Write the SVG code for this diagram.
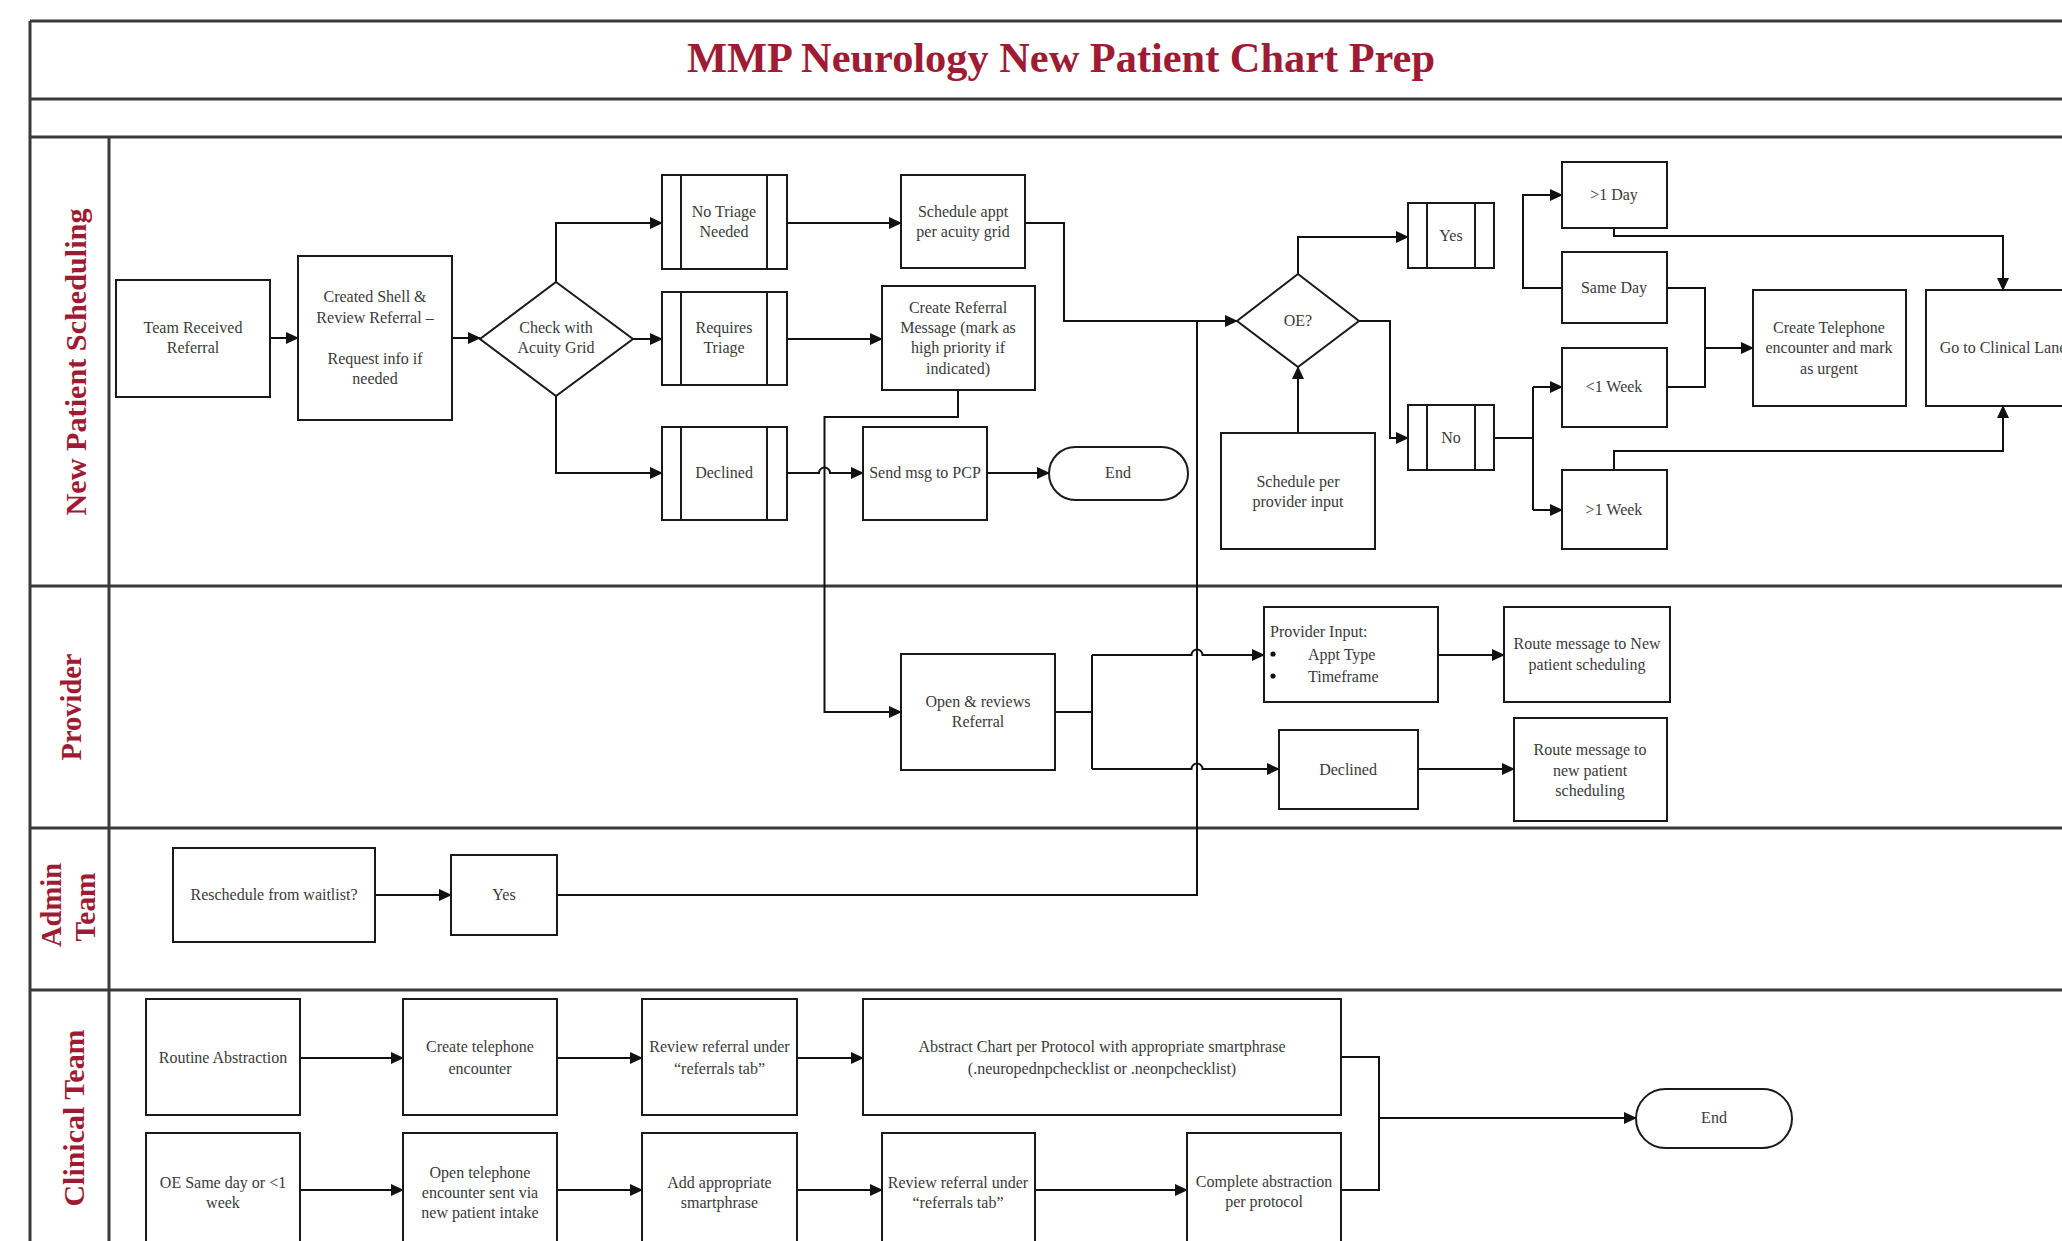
<svg xmlns="http://www.w3.org/2000/svg" width="2062" height="1241" viewBox="0 0 2062 1241">
<style>
.frame{fill:none;stroke:#3a3a3a;stroke-width:3}
.box{fill:#fff;stroke:#1a1a1a;stroke-width:2}
.sub{fill:none;stroke:#1a1a1a;stroke-width:2}
.t{font-family:"Liberation Serif",serif;font-size:16px;fill:#3a3a3a;text-anchor:middle}
.ts{font-family:"Liberation Serif",serif;font-size:16px;fill:#3a3a3a}
.lane{font-family:"Liberation Serif",serif;font-size:29px;font-weight:bold;fill:#9e1b34;text-anchor:middle}
.title{font-family:"Liberation Serif",serif;font-size:42px;font-weight:bold;fill:#9e1b34}
.c{fill:none;stroke:#111;stroke-width:2}
.ca{fill:none;stroke:#111;stroke-width:2;marker-end:url(#ah)}
</style>
<defs>
<marker id="ah" markerUnits="userSpaceOnUse" markerWidth="13" markerHeight="12" refX="12" refY="6" orient="auto">
<path d="M0,0 L13,6 L0,12 z" fill="#111"/>
</marker>
</defs>
<rect width="2062" height="1241" fill="#fff"/>

<g id="frame">
<line class="frame" x1="30" y1="21" x2="2070" y2="21"/>
<line class="frame" x1="30" y1="21" x2="30" y2="1250"/>
<line class="frame" x1="30" y1="99" x2="2070" y2="99"/>
<line class="frame" x1="30" y1="137" x2="2070" y2="137"/>
<line class="frame" x1="30" y1="586" x2="2070" y2="586"/>
<line class="frame" x1="30" y1="828" x2="2070" y2="828"/>
<line class="frame" x1="30" y1="990" x2="2070" y2="990"/>
<line class="frame" x1="109" y1="137" x2="109" y2="1250"/>
<text class="title" x="687" y="72" textLength="748" lengthAdjust="spacingAndGlyphs">MMP Neurology New Patient Chart Prep</text>
<text class="lane" transform="translate(86,362) rotate(-90)" textLength="307" lengthAdjust="spacingAndGlyphs">New Patient Scheduling</text>
<text class="lane" transform="translate(81,707) rotate(-90)" textLength="107" lengthAdjust="spacingAndGlyphs">Provider</text>
<text class="lane" transform="translate(61,905) rotate(-90)" textLength="84" lengthAdjust="spacingAndGlyphs">Admin</text>
<text class="lane" transform="translate(95,907) rotate(-90)" textLength="69" lengthAdjust="spacingAndGlyphs">Team</text>
<text class="lane" transform="translate(84,1118) rotate(-90)" textLength="177" lengthAdjust="spacingAndGlyphs">Clinical Team</text>
</g>

<g id="connectors">
<path class="ca" d="M270,338 H298"/>
<path class="ca" d="M452,338 H480"/>
<path class="ca" d="M556,282 V223 H662"/>
<path class="ca" d="M633,339 H662"/>
<path class="ca" d="M556,396 V473 H662"/>
<path class="ca" d="M787,223 H901"/>
<path class="ca" d="M787,339 H882"/>
<path class="ca" d="M787,473 H819 a5.5,5.5 0 0 1 11,0 H863"/>
<path class="ca" d="M987,473 H1049"/>
<path class="ca" d="M958,390 V417 H824.5 V712 H901"/>
<path class="ca" d="M1025,223 H1064 V321 H1237"/>
<path class="c" d="M557,895 H1197 V321"/>
<path class="ca" d="M1298,274 V237 H1408"/>
<path class="ca" d="M1359,321 H1390 V438 H1408"/>
<path class="ca" d="M1298,433 V367"/>
<path class="c" d="M1494,438 H1533 M1533,387 V510"/>
<path class="ca" d="M1533,387 H1562"/>
<path class="ca" d="M1533,510 H1562"/>
<path class="ca" d="M1562,288 H1523 V195 H1562"/>
<path class="c" d="M1667,288 H1705 V387 H1667"/>
<path class="ca" d="M1705,348 H1753"/>
<path class="ca" d="M1614,228 V236 H2003 V290"/>
<path class="ca" d="M1614,470 V451 H2003 V406"/>
<path class="c" d="M1055,712 H1092 M1092,655 V769"/>
<path class="ca" d="M1092,655 H1191.5 a5.5,5.5 0 0 1 11,0 H1264"/>
<path class="ca" d="M1092,769 H1191.5 a5.5,5.5 0 0 1 11,0 H1279"/>
<path class="ca" d="M1438,655 H1504"/>
<path class="ca" d="M1418,769 H1514"/>
<path class="ca" d="M375,895 H451"/>
<path class="ca" d="M300,1058 H403"/>
<path class="ca" d="M557,1058 H642"/>
<path class="ca" d="M797,1058 H863"/>
<path class="ca" d="M300,1190 H403"/>
<path class="ca" d="M557,1190 H642"/>
<path class="ca" d="M797,1190 H882"/>
<path class="ca" d="M1035,1190 H1187"/>
<path class="c" d="M1341,1057 H1379 V1190 H1341"/>
<path class="ca" d="M1379,1118 H1636"/>
</g>

<g id="n-team-received"><rect class="box" x="116" y="280" width="154" height="117"/>
<text class="t" x="193" y="333">Team Received</text><text class="t" x="193" y="353">Referral</text></g>

<g id="n-created-shell"><rect class="box" x="298" y="256" width="154" height="164"/>
<text class="t" x="375" y="302">Created Shell &amp;</text><text class="t" x="375" y="323">Review Referral –</text>
<text class="t" x="375" y="364">Request info if</text><text class="t" x="375" y="384">needed</text></g>

<g id="n-check-acuity"><polygon class="box" points="556,282 633,339 556,396 480,339"/>
<text class="t" x="556" y="333">Check with</text><text class="t" x="556" y="353">Acuity Grid</text></g>

<g id="n-no-triage"><rect class="box" x="662" y="175" width="125" height="94"/>
<line class="sub" x1="681" y1="175" x2="681" y2="269"/><line class="sub" x1="767" y1="175" x2="767" y2="269"/>
<text class="t" x="724" y="217">No Triage</text><text class="t" x="724" y="237">Needed</text></g>

<g id="n-requires-triage"><rect class="box" x="662" y="292" width="125" height="93"/>
<line class="sub" x1="681" y1="292" x2="681" y2="385"/><line class="sub" x1="767" y1="292" x2="767" y2="385"/>
<text class="t" x="724" y="333">Requires</text><text class="t" x="724" y="353">Triage</text></g>

<g id="n-declined"><rect class="box" x="662" y="427" width="125" height="93"/>
<line class="sub" x1="681" y1="427" x2="681" y2="520"/><line class="sub" x1="767" y1="427" x2="767" y2="520"/>
<text class="t" x="724" y="478">Declined</text></g>

<g id="n-schedule-appt"><rect class="box" x="901" y="175" width="124" height="93"/>
<text class="t" x="963" y="217">Schedule appt</text><text class="t" x="963" y="237">per acuity grid</text></g>

<g id="n-create-referral"><rect class="box" x="882" y="286" width="153" height="104"/>
<text class="t" x="958" y="313">Create Referral</text><text class="t" x="958" y="333">Message (mark as</text>
<text class="t" x="958" y="353">high priority if</text><text class="t" x="958" y="374">indicated)</text></g>

<g id="n-send-pcp"><rect class="box" x="863" y="427" width="124" height="93"/>
<text class="t" x="925" y="478">Send msg to PCP</text></g>

<g id="n-end1"><rect class="box" x="1049" y="447" width="139" height="53" rx="26.5"/>
<text class="t" x="1118" y="478">End</text></g>

<g id="n-oe"><polygon class="box" points="1298,274 1359,321 1298,367 1237,321"/>
<text class="t" x="1298" y="326">OE?</text></g>

<g id="n-yes"><rect class="box" x="1408" y="203" width="86" height="65"/>
<line class="sub" x1="1427" y1="203" x2="1427" y2="268"/><line class="sub" x1="1475" y1="203" x2="1475" y2="268"/>
<text class="t" x="1451" y="241">Yes</text></g>

<g id="n-no"><rect class="box" x="1408" y="405" width="86" height="65"/>
<line class="sub" x1="1427" y1="405" x2="1427" y2="470"/><line class="sub" x1="1475" y1="405" x2="1475" y2="470"/>
<text class="t" x="1451" y="443">No</text></g>

<g id="n-schedule-provider"><rect class="box" x="1221" y="433" width="154" height="116"/>
<text class="t" x="1298" y="487">Schedule per</text><text class="t" x="1298" y="507">provider input</text></g>

<g id="n-gt1day"><rect class="box" x="1562" y="162" width="105" height="66"/>
<text class="t" x="1614" y="200">&gt;1 Day</text></g>

<g id="n-sameday"><rect class="box" x="1562" y="252" width="105" height="71"/>
<text class="t" x="1614" y="293">Same Day</text></g>

<g id="n-lt1week"><rect class="box" x="1562" y="348" width="105" height="79"/>
<text class="t" x="1614" y="392">&lt;1 Week</text></g>

<g id="n-gt1week"><rect class="box" x="1562" y="470" width="105" height="79"/>
<text class="t" x="1614" y="515">&gt;1 Week</text></g>

<g id="n-create-telephone"><rect class="box" x="1753" y="290" width="153" height="116"/>
<text class="t" x="1829" y="333">Create Telephone</text><text class="t" x="1829" y="353">encounter and mark</text>
<text class="t" x="1829" y="374">as urgent</text></g>

<g id="n-go-clinical"><rect class="box" x="1926" y="290" width="154" height="116"/>
<text class="t" x="2003" y="353">Go to Clinical Lane</text></g>

<g id="n-open-reviews"><rect class="box" x="901" y="654" width="154" height="116"/>
<text class="t" x="978" y="707">Open &amp; reviews</text><text class="t" x="978" y="727">Referral</text></g>

<g id="n-provider-input"><rect class="box" x="1264" y="607" width="174" height="95"/>
<text class="ts" x="1270" y="637">Provider Input:</text>
<circle cx="1273" cy="654" r="2.6" fill="#111"/><circle cx="1273" cy="676" r="2.6" fill="#111"/>
<text class="ts" x="1308" y="660">Appt Type</text><text class="ts" x="1308" y="682">Timeframe</text></g>

<g id="n-route-new"><rect class="box" x="1504" y="607" width="166" height="95"/>
<text class="t" x="1587" y="649">Route message to New</text><text class="t" x="1587" y="670">patient scheduling</text></g>

<g id="n-prov-declined"><rect class="box" x="1279" y="730" width="139" height="79"/>
<text class="t" x="1348" y="775">Declined</text></g>

<g id="n-route-new2"><rect class="box" x="1514" y="718" width="153" height="103"/>
<text class="t" x="1590" y="755">Route message to</text><text class="t" x="1590" y="776">new patient</text>
<text class="t" x="1590" y="796">scheduling</text></g>

<g id="n-reschedule"><rect class="box" x="173" y="848" width="202" height="94"/>
<text class="t" x="274" y="900">Reschedule from waitlist?</text></g>

<g id="n-admin-yes"><rect class="box" x="451" y="855" width="106" height="80"/>
<text class="t" x="504" y="900">Yes</text></g>

<g id="n-routine"><rect class="box" x="146" y="999" width="154" height="116"/>
<text class="t" x="223" y="1063">Routine Abstraction</text></g>

<g id="n-create-tel-enc"><rect class="box" x="403" y="999" width="154" height="116"/>
<text class="t" x="480" y="1052">Create telephone</text><text class="t" x="480" y="1074">encounter</text></g>

<g id="n-review-ref1"><rect class="box" x="642" y="999" width="155" height="116"/>
<text class="t" x="719.5" y="1052">Review referral under</text><text class="t" x="719.5" y="1074">“referrals tab”</text></g>

<g id="n-abstract-chart"><rect class="box" x="863" y="999" width="478" height="116"/>
<text class="t" x="1102" y="1052">Abstract Chart per Protocol with appropriate smartphrase</text>
<text class="t" x="1102" y="1074">(.neuropednpchecklist or .neonpchecklist)</text></g>

<g id="n-oe-same"><rect class="box" x="146" y="1133" width="154" height="130"/>
<text class="t" x="223" y="1188">OE Same day or &lt;1</text><text class="t" x="223" y="1208">week</text></g>

<g id="n-open-tel"><rect class="box" x="403" y="1133" width="154" height="130"/>
<text class="t" x="480" y="1178">Open telephone</text><text class="t" x="480" y="1198">encounter sent via</text>
<text class="t" x="480" y="1218">new patient intake</text></g>

<g id="n-add-smart"><rect class="box" x="642" y="1133" width="155" height="130"/>
<text class="t" x="719.5" y="1188">Add appropriate</text><text class="t" x="719.5" y="1208">smartphrase</text></g>

<g id="n-review-ref2"><rect class="box" x="882" y="1133" width="153" height="130"/>
<text class="t" x="958" y="1188">Review referral under</text><text class="t" x="958" y="1208">“referrals tab”</text></g>

<g id="n-complete"><rect class="box" x="1187" y="1133" width="154" height="130"/>
<text class="t" x="1264" y="1187">Complete abstraction</text><text class="t" x="1264" y="1207">per protocol</text></g>

<g id="n-end2"><rect class="box" x="1636" y="1089" width="156" height="59" rx="29.5"/>
<text class="t" x="1714" y="1123">End</text></g>
</svg>
